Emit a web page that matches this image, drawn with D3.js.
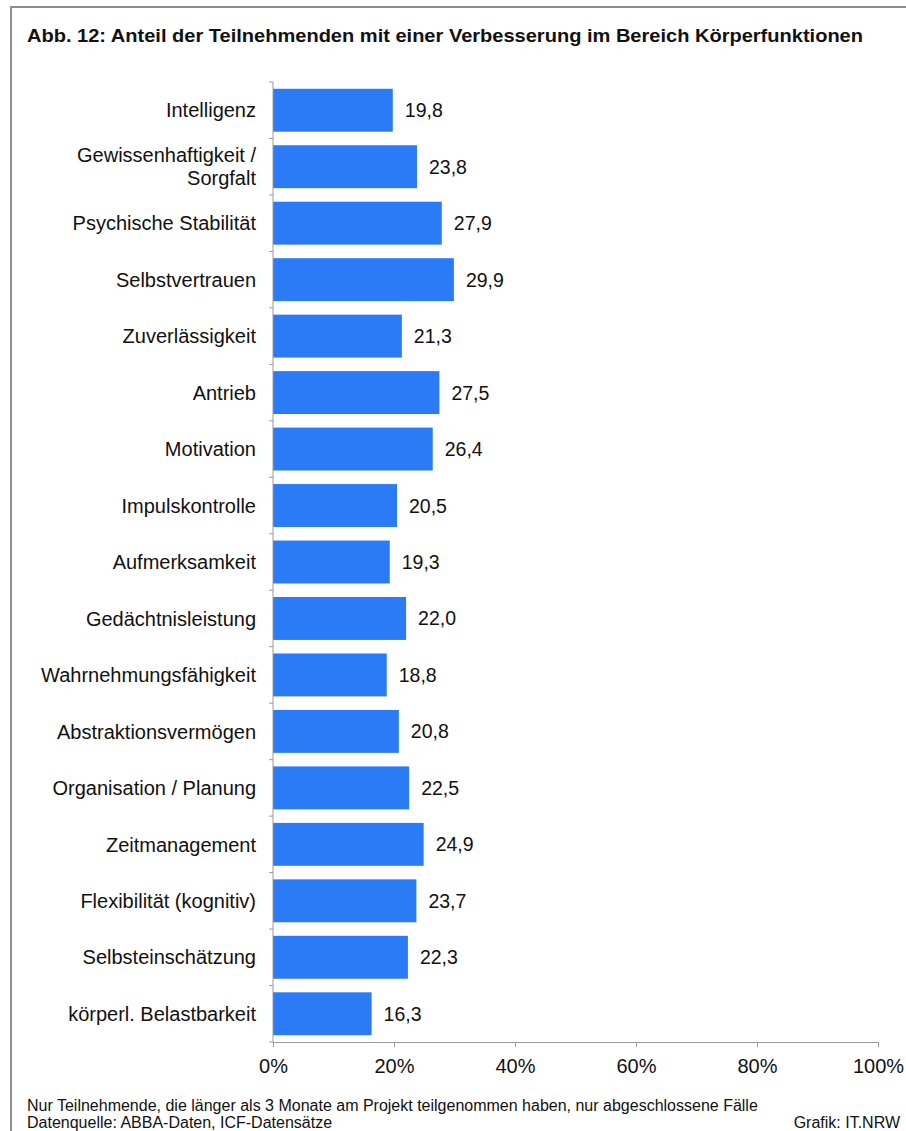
<!DOCTYPE html>
<html>
<head>
<meta charset="utf-8">
<script src="https://cdn.jsdelivr.net/npm/d3@7"></script>
<style>
  html, body { margin: 0; padding: 0; background: #fff; }
  svg { display: block; font-family: "Liberation Sans", Arial, sans-serif; }
</style>
</head>
<body>
<svg id="chart" width="906" height="1131"></svg>
<script>
// Kategorien (Körperfunktionen) und Anteile in Prozent
const categories = [
  "Intelligenz",
  "Gewissenhaftigkeit / Sorgfalt",
  "Psychische Stabilität",
  "Selbstvertrauen",
  "Zuverlässigkeit",
  "Antrieb",
  "Motivation",
  "Impulskontrolle",
  "Aufmerksamkeit",
  "Gedächtnisleistung",
  "Wahrnehmungsfähigkeit",
  "Abstraktionsvermögen",
  "Organisation / Planung",
  "Zeitmanagement",
  "Flexibilität (kognitiv)",
  "Selbsteinschätzung",
  "körperl. Belastbarkeit"
];
const values = [19.8, 23.8, 27.9, 29.9, 21.3, 27.5, 26.4, 20.5, 19.3, 22.0, 18.8, 20.8, 22.5, 24.9, 23.7, 22.3, 16.3];
const ticks = [0, 20, 40, 60, 80, 100];

// Mehrzeilige Beschriftungen
const labelLines = {
  "Gewissenhaftigkeit / Sorgfalt": ["Gewissenhaftigkeit /", "Sorgfalt"]
};

const titleText = "Abb. 12: Anteil der Teilnehmenden mit einer Verbesserung im Bereich Körperfunktionen";
const note1 = "Nur Teilnehmende,  die länger als 3 Monate am Projekt teilgenommen  haben, nur abgeschlossene Fälle";
const note2 = "Datenquelle:  ABBA-Daten,  ICF-Datensätze";
const credit = "Grafik: IT.NRW";

const svg = d3.select("#chart");
const W = 906, H = 1131;

// Rahmen
svg.append("rect")
  .attr("x", 11).attr("y", 7)
  .attr("width", W + 20).attr("height", H + 20)
  .attr("fill", "#fff")
  .attr("stroke", "#8c9090")
  .attr("stroke-width", 2);

// Titel
svg.append("text")
  .attr("x", 27).attr("y", 42)
  .attr("font-size", 19)
  .attr("font-weight", "bold")
  .attr("fill", "#111")
  .attr("textLength", 836)
  .attr("lengthAdjust", "spacingAndGlyphs")
  .text(titleText);

const plot = { left: 273, right: 878, top: 82, bottom: 1042 };

const x = d3.scaleLinear().domain([0, 100]).range([plot.left, plot.right]);
const y = d3.scaleBand().domain(categories).range([plot.top, plot.bottom]).paddingInner(0.24).paddingOuter(0.12);

// Balken
svg.append("g").selectAll("rect")
  .data(categories)
  .join("rect")
  .attr("x", x(0))
  .attr("y", d => y(d))
  .attr("width", (d, i) => x(values[i]) - x(0))
  .attr("height", y.bandwidth())
  .attr("fill", "#2b7bf6");

// Wertebeschriftungen
svg.append("g").selectAll("text")
  .data(categories)
  .join("text")
  .attr("x", (d, i) => x(values[i]) + 12)
  .attr("y", d => y(d) + y.bandwidth() / 2)
  .attr("dy", "0.36em")
  .attr("font-size", 19.5)
  .attr("fill", "#111")
  .text((d, i) => d3.format(".1f")(values[i]).replace(".", ","));

// Y-Achse mit Teilstrichen an den Kategoriegrenzen
const axisColor = "#9a9a9a";
svg.append("line")
  .attr("x1", x(0)).attr("x2", x(0))
  .attr("y1", plot.top).attr("y2", plot.bottom)
  .attr("stroke", axisColor).attr("stroke-width", 1);
const bounds = d3.range(categories.length + 1).map(i => plot.top + i * (plot.bottom - plot.top) / categories.length);
svg.append("g").selectAll("line")
  .data(bounds)
  .join("line")
  .attr("x1", x(0) - 4).attr("x2", x(0))
  .attr("y1", d => d).attr("y2", d => d)
  .attr("stroke", axisColor);

// Kategoriebeschriftungen
const labG = svg.append("g")
  .attr("font-size", 20)
  .attr("fill", "#111")
  .attr("text-anchor", "end");
categories.forEach(c => {
  const lines = labelLines[c] || [c];
  const cy = y(c) + y.bandwidth() / 2;
  const lh = 23;
  const t = labG.append("text").attr("x", 256);
  lines.forEach((ln, j) => {
    t.append("tspan")
      .attr("x", 256)
      .attr("y", cy + (j - (lines.length - 1) / 2) * lh)
      .attr("dy", "0.36em")
      .text(ln);
  });
});

// X-Achse
const xAxis = d3.axisBottom(x)
  .tickValues(ticks)
  .tickSize(5)
  .tickFormat(d => d + "%");
const gx = svg.append("g")
  .attr("transform", `translate(0,${plot.bottom})`)
  .call(xAxis);
gx.select(".domain").attr("stroke", axisColor);
gx.selectAll(".tick line").attr("stroke", axisColor);
gx.selectAll(".tick text")
  .attr("font-size", 20)
  .attr("font-family", "Liberation Sans, Arial, sans-serif")
  .attr("fill", "#111")
  .attr("y", 17)
  .attr("dy", "0.71em");

// Fußnoten
const foot = svg.append("g").attr("font-size", 16).attr("fill", "#111");
foot.append("text").attr("x", 27).attr("y", 1111).text(note1);
foot.append("text").attr("x", 27).attr("y", 1128).text(note2);
foot.append("text").attr("x", 900).attr("y", 1128).attr("text-anchor", "end").text(credit);
</script>
</body>
</html>
